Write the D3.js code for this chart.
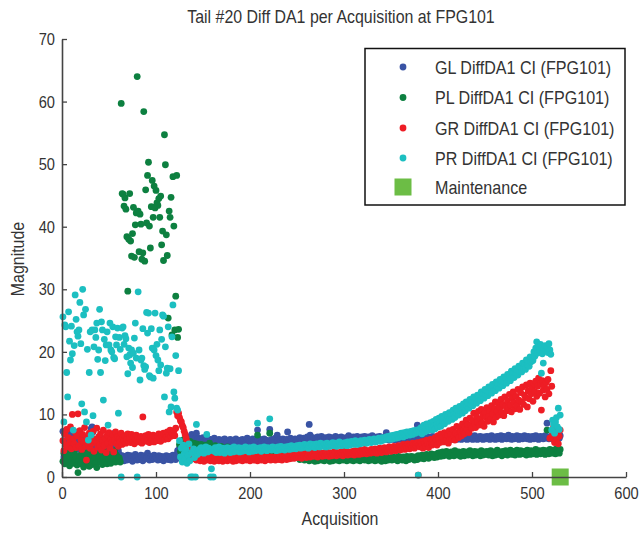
<!DOCTYPE html>
<html>
<head>
<meta charset="utf-8">
<script src="https://cdn.jsdelivr.net/npm/d3@7/dist/d3.min.js"></script>
<style>
  html, body { margin: 0; padding: 0; background: #fff; }
  svg { display: block; }
  text { font-family: "Liberation Sans", Arial, sans-serif; fill: #333; }
</style>
</head>
<body>
<svg id="chart" width="641" height="533"></svg>
<script>
// ---------------- DATA ----------------
const titleText = "Tail #20 Diff DA1 per Acquisition at FPG101";
const xLabel = "Acquisition";
const yLabel = "Magnitude";
const xTicks = [0, 100, 200, 300, 400, 500, 600];
const yTicks = [0, 10, 20, 30, 40, 50, 60, 70];
const seriesNames = ["GL DiffDA1 CI (FPG101)", "PL DiffDA1 CI (FPG101)", "GR DiffDA1 CI (FPG101)", "PR DiffDA1 CI (FPG101)"];
const maintenanceLabel = "Maintenance";
const maintenanceAcq = [530];
const acquisitions = d3.range(1, 531); // acquisition numbers 1..530

const GL = [
7.3,3.2,6.8,5.5,7.5,4.6,6.2,5.1,6.9,4.3,
5.8,6.4,4.9,7.1,5.3,6.0,4.4,5.6,6.6,4.8,
5.2,6.1,4.1,5.7,6.3,4.7,5.4,4.0,6.0,5.0,
7.7,8.0,7.2,5.5,4.6,5.9,4.2,5.1,6.3,4.5,
5.3,4.0,5.8,4.7,6.1,4.4,5.0,3.9,5.6,4.6,
5.2,4.1,4.8,5.5,4.3,7.0,4.5,3.8,4.9,4.2,
3.6,3.2,2.8,3.4,3.0,2.6,3.3,3.1,2.7,3.5,
3.0,2.8,3.4,3.1,2.5,3.2,2.9,3.6,3.0,2.7,
3.3,3.1,2.8,3.5,3.0,2.6,3.2,3.4,2.9,3.1,
3.8,3.2,2.7,3.0,3.3,2.8,3.1,3.5,2.9,3.2,
3.0,2.7,3.4,3.1,2.8,3.3,3.0,2.6,3.2,2.9,
3.4,3.0,2.8,3.3,3.1,2.7,3.0,3.5,2.9,3.2,
2.8,3.6,4.2,3.8,4.6,5.1,4.4,5.6,4.9,5.8,
5.2,6.0,5.5,6.4,5.7,6.2,5.4,6.8,5.9,6.5,
6.1,5.6,7.0,5.8,6.2,5.5,6.0,5.3,5.9,6.3,
5.6,5.1,5.9,6.1,5.4,5.8,5.2,6.0,5.5,5.7,
5.3,6.2,5.6,5.0,5.8,5.4,6.0,5.2,5.7,5.9,
5.1,5.6,6.1,5.3,5.5,5.8,5.0,5.7,6.0,5.4,
5.6,5.2,5.9,5.5,6.1,5.3,5.8,5.6,5.1,5.9,
5.4,6.0,5.7,5.2,5.8,5.5,6.2,5.3,5.9,5.6,
5.4,5.8,6.1,5.5,5.2,5.9,5.6,7.5,5.3,5.8,
6.0,5.5,5.7,5.2,6.1,5.6,5.9,5.4,5.8,5.5,
7.6,5.7,6.0,5.4,5.9,5.6,6.2,5.5,6.7,5.8,
5.4,6.0,5.7,5.5,6.1,5.6,5.9,5.3,6.0,7.2,
5.8,5.5,6.2,5.7,6.0,5.4,5.9,6.1,5.6,5.8,
6.0,5.7,6.3,5.5,6.1,5.8,6.2,5.6,6.0,5.9,
6.4,5.7,8.4,6.7,6.1,5.8,6.3,6.0,5.7,6.2,
5.9,6.4,6.0,5.8,6.2,6.5,5.9,6.1,5.7,6.3,
6.0,6.2,5.8,6.4,6.1,5.9,6.3,6.0,5.8,6.2,
6.5,6.0,5.9,6.3,6.1,5.8,6.4,6.0,6.2,5.9,
6.1,6.3,5.9,6.2,6.6,6.0,5.8,6.3,6.1,6.4,
6.0,6.2,5.9,6.5,6.1,6.3,6.0,5.8,6.4,6.2,
6.1,6.5,5.9,6.2,6.0,6.4,6.3,5.9,6.1,6.6,
6.0,6.3,6.1,5.9,6.4,6.2,6.0,6.5,6.1,6.3,
5.9,6.2,6.4,6.0,7.1,6.1,6.3,5.9,6.2,6.5,
6.0,6.3,6.1,6.4,5.9,6.2,6.6,6.0,6.3,6.1,
6.4,6.0,6.2,6.5,6.1,6.3,5.9,6.2,6.6,6.0,
6.3,6.1,6.4,6.0,6.2,6.5,6.1,8.3,6.3,6.0,
6.2,6.4,6.0,6.3,6.1,6.5,6.2,6.0,6.4,6.1,
6.3,6.0,6.2,6.5,6.1,6.4,6.2,6.0,6.3,6.1,
6.4,6.2,6.0,6.3,6.5,6.1,6.2,6.4,6.0,6.3,
6.1,6.5,6.2,6.0,6.4,6.2,6.3,6.1,6.5,6.0,
6.2,6.4,6.1,6.3,6.0,6.5,6.2,6.4,6.1,6.3,
6.0,6.2,6.5,6.1,6.4,6.2,6.0,6.3,6.6,6.1,
6.3,6.0,6.4,6.2,6.5,6.1,6.3,6.0,6.4,6.2,
6.1,6.5,6.2,6.4,6.0,6.3,6.6,6.1,6.4,6.2,
6.0,6.3,6.5,6.1,6.4,6.2,6.6,6.0,6.3,6.5,
6.2,6.4,6.1,6.3,6.7,6.2,6.4,6.0,6.5,6.3,
6.1,6.4,6.2,6.6,6.3,6.0,6.5,6.2,6.4,6.1,
6.3,6.6,6.2,6.4,6.1,6.5,6.3,6.0,6.4,6.2,
6.5,6.1,6.3,6.6,6.2,6.4,6.0,6.3,6.5,6.2,
6.4,6.1,6.3,6.6,6.2,8.6,6.4,6.1,6.3,6.5,
6.2,6.6,6.0,6.4,6.3,6.5,6.1,6.4,6.2,6.6
];

const PL = [
2.5,3.8,2.1,3.2,4.0,2.7,3.5,1.8,3.0,2.4,
3.6,2.2,3.9,2.8,3.3,1.9,0.7,2.6,3.4,2.1,
3.7,2.9,1.6,3.1,2.5,3.8,2.3,3.3,1.7,2.8,
3.5,2.0,3.9,2.6,3.1,2.2,1.5,3.6,2.9,3.2,
2.4,3.7,2.0,3.0,4.1,2.5,3.4,2.1,3.8,2.7,
3.3,2.2,3.9,2.6,3.0,4.2,2.4,3.5,2.9,3.1,
3.0,2.4,59.7,45.3,45.2,43.3,44.6,42.8,38.4,29.7,
38.0,45.3,37.7,35.3,38.9,43.1,35.1,40.3,42.2,64.0,
42.5,36.0,42.0,40.4,34.8,35.8,58.4,34.5,45.9,40.6,
48.2,50.3,40.1,36.6,43.2,47.4,41.5,46.5,43.0,45.8,
43.8,43.4,44.5,41.5,44.9,37.1,39.3,34.6,54.7,49.9,
38.7,35.4,25.4,42.5,41.5,44.7,22.7,48.0,40.1,23.5,
28.9,48.2,22.3,23.6,5.2,4.1,5.8,3.6,4.9,6.0,
4.4,5.5,3.9,5.1,4.6,5.7,4.2,5.0,4.5,5.4,
4.8,4.2,5.3,4.5,3.9,5.0,4.4,5.2,4.0,4.7,
4.3,5.1,4.6,3.8,4.9,4.2,5.4,4.5,4.0,4.8,
4.4,3.9,5.0,4.3,4.7,3.6,4.5,4.1,4.9,3.8,
4.2,4.6,3.7,4.4,4.0,4.8,3.5,4.3,3.9,4.5,
3.8,4.2,3.6,4.4,4.0,3.7,4.3,3.9,4.1,3.6,
4.0,3.8,4.4,3.5,4.1,3.9,3.6,4.2,3.8,4.0,
3.9,4.3,3.6,4.1,3.8,4.4,3.7,6.7,4.0,3.5,
4.2,3.8,4.0,3.6,4.3,3.9,3.5,4.1,3.7,4.0,
7.0,3.8,4.2,3.6,3.9,4.1,3.5,3.8,4.0,3.6,
3.9,3.5,4.1,3.7,3.8,3.4,4.0,3.6,3.9,3.5,
3.7,3.3,3.9,3.6,3.4,3.8,3.2,3.5,3.7,3.3,
3.1,3.5,2.8,3.3,4.5,2.9,3.2,2.7,3.4,3.0,
2.8,3.2,2.6,3.0,3.3,2.7,3.1,2.9,2.5,3.2,
3.0,2.6,3.3,2.8,3.1,2.7,2.9,3.2,2.6,3.0,
2.8,3.1,2.7,3.0,2.5,3.2,2.9,2.6,3.1,2.8,
3.0,2.7,3.2,2.9,2.6,3.1,2.8,3.0,2.7,3.2,
2.9,3.1,2.6,3.0,2.8,3.3,2.7,2.9,3.1,2.6,
3.0,2.8,3.2,2.7,2.9,3.1,2.6,3.0,2.8,3.2,
2.9,2.7,3.1,2.8,3.0,2.6,3.2,2.9,2.7,3.1,
2.8,3.0,2.6,3.2,2.9,2.7,3.1,2.8,3.0,2.5,
3.1,2.8,3.0,2.6,3.2,2.9,2.7,3.1,2.8,3.0,
2.7,3.2,2.9,3.1,2.8,3.0,2.6,3.3,2.9,3.1,
3.0,2.7,3.2,2.9,3.1,2.6,3.3,3.0,2.8,3.2,
3.0,3.3,2.9,3.1,2.7,3.2,3.0,2.8,3.4,3.1,
3.3,3.0,3.5,3.2,2.9,3.4,3.1,3.6,3.3,3.0,
3.4,3.2,3.7,3.3,3.5,3.1,3.6,3.4,3.2,3.8,
3.5,3.9,3.3,3.7,4.0,3.4,3.8,3.6,4.1,3.5,
3.9,3.3,3.7,4.0,3.5,3.8,3.4,4.2,3.6,3.9,
3.5,4.0,3.7,3.3,3.9,3.6,4.1,3.4,3.8,3.6,
4.0,3.5,3.8,4.2,3.6,3.9,3.4,3.7,4.1,3.5,
3.8,4.0,3.6,3.9,3.4,4.2,3.7,3.5,4.0,3.8,
3.6,4.1,3.8,3.5,3.9,4.2,3.7,3.4,4.0,3.8,
3.5,3.9,4.3,3.7,3.6,4.0,3.8,3.4,4.1,3.9,
3.6,4.2,3.8,3.5,4.0,3.7,4.3,3.9,3.6,4.1,
3.8,3.5,4.0,4.3,3.7,3.9,3.6,4.2,3.8,4.0,
3.7,4.1,3.9,3.5,4.3,3.8,4.0,3.6,4.2,3.9,
3.7,4.1,3.8,4.4,3.6,4.0,3.9,4.2,3.7,4.1,
3.8,4.3,3.9,3.6,4.2,7.5,4.0,3.7,4.4,3.9,
4.1,3.8,4.3,4.0,3.7,4.5,3.9,4.2,3.8,4.4
];

const GR = [
5.8,4.2,6.9,5.1,7.6,4.8,6.3,5.5,8.0,4.5,
10.0,6.1,5.3,7.2,4.7,6.6,10.1,5.0,7.4,5.9,
4.4,6.8,5.6,7.9,4.9,2.7,6.2,5.2,7.0,4.6,
6.5,5.4,7.3,4.1,6.0,5.7,7.8,4.8,6.4,5.1,
6.9,4.3,5.8,7.5,5.0,6.2,3.9,6.7,5.4,7.1,
4.6,6.0,5.5,6.8,4.0,5.9,7.2,5.3,6.4,4.9,
6.1,5.6,7.0,5.2,6.3,5.8,6.6,5.4,6.0,6.9,
5.7,6.2,5.5,6.8,5.9,6.4,5.3,6.1,6.7,5.8,
6.3,5.6,6.0,6.5,5.4,9.6,6.2,5.9,6.6,5.7,
6.1,6.8,5.5,6.3,5.9,6.0,6.7,5.6,6.4,6.2,
5.8,6.5,6.9,6.1,5.7,6.6,6.3,7.0,6.0,6.8,
6.4,7.2,6.1,6.7,7.5,6.5,7.1,6.9,7.4,6.6,
7.8,10.4,9.8,10.2,9.5,9.0,8.8,8.2,7.9,7.3,
6.8,6.2,5.6,5.0,4.4,3.9,3.4,4.1,3.2,3.6,
2.9,3.3,2.7,3.5,3.0,3.1,2.6,3.4,2.8,3.2,
2.5,3.0,3.3,2.7,3.1,2.9,3.4,2.6,3.0,2.8,
3.2,2.5,3.1,2.7,3.3,2.9,2.6,3.2,2.8,3.0,
2.5,3.3,2.7,3.1,2.9,2.6,3.2,2.8,3.0,2.7,
3.3,2.5,3.1,2.9,2.6,3.2,2.8,3.0,2.7,3.4,
2.9,2.6,3.1,2.8,3.3,2.7,3.0,2.9,3.2,2.6,
3.1,2.8,3.3,2.7,3.0,2.9,3.2,2.6,3.1,2.8,
3.4,2.7,3.0,2.9,3.2,2.6,3.1,2.8,3.3,2.9,
3.0,2.7,3.2,2.8,3.1,3.0,2.7,3.3,2.9,3.1,
2.8,3.4,3.0,2.7,3.2,2.9,3.3,3.0,2.8,3.4,
3.1,2.9,3.5,3.0,3.2,3.4,3.0,3.3,3.6,3.1,
3.5,3.2,3.7,3.3,3.0,3.6,3.3,3.8,3.4,3.1,
3.7,3.5,3.9,3.2,3.6,3.4,3.8,3.3,3.6,4.0,
3.5,3.2,3.7,3.4,3.9,3.5,3.3,3.8,3.6,3.4,
4.0,3.5,3.7,3.3,3.9,3.6,3.4,3.8,3.5,4.1,
3.7,3.4,3.9,3.6,3.8,3.5,4.0,3.7,3.4,3.9,
3.6,4.2,3.8,3.5,4.0,3.7,3.9,3.6,4.1,3.8,
3.5,4.2,3.9,3.7,4.0,3.6,4.3,3.9,3.7,4.1,
3.8,4.4,4.0,3.7,4.2,3.9,4.1,3.8,4.4,4.0,
4.2,3.9,4.5,4.1,3.8,4.3,4.0,4.6,4.2,3.9,
4.4,4.1,4.7,4.3,4.0,4.5,4.2,4.8,4.4,4.1,
4.6,4.3,4.9,4.5,4.2,4.7,4.4,5.0,4.6,4.3,
4.8,4.5,5.2,4.7,4.4,4.9,4.6,5.3,4.8,4.5,
5.1,4.7,5.4,5.0,4.6,5.2,4.9,5.5,0.3,5.1,
4.8,5.6,5.1,4.6,5.7,5.3,4.9,5.9,5.2,4.7,
5.3,6.0,5.5,5.1,5.8,5.4,6.3,5.9,5.1,6.6,
6.0,5.5,6.9,5.8,6.2,5.6,7.1,6.3,5.9,6.7,
5.4,7.4,6.1,6.8,6.0,7.6,6.5,5.9,7.0,8.1,
6.7,6.3,7.8,7.2,6.6,8.5,7.4,6.9,8.0,9.1,
7.6,8.4,7.1,9.4,8.2,7.8,9.0,10.2,8.5,7.9,
9.6,8.8,10.5,8.3,9.3,10.8,8.6,9.9,8.1,10.3,
9.5,11.1,8.9,9.7,10.6,9.2,11.4,10.1,8.8,10.9,
12.0,9.6,10.5,11.7,9.9,11.1,12.4,10.3,11.6,9.8,
12.8,11.3,10.6,12.2,11.0,13.2,11.5,10.4,12.6,13.6,
11.9,10.9,12.9,11.4,14.0,12.3,10.8,13.5,12.0,14.4,
11.6,13.1,12.7,14.7,11.2,13.8,12.5,15.0,13.3,14.2,
12.1,14.9,13.6,15.3,12.9,14.5,15.8,13.4,14.9,10.7,
15.4,13.9,14.6,12.8,15.1,14.0,15.6,13.3,6.2,17.0,
14.5,6.8,8.0,5.5,7.2,6.0,7.6,5.3,6.5,7.5
];

const PR = [
25.6,8.8,24.3,24.0,16.7,12.8,26.4,21.7,18.7,24.1,
19.7,7.5,21.0,29.1,25.2,23.2,22.5,23.5,27.9,21.3,
11.7,30.0,25.9,10.4,26.8,8.8,20.4,5.9,16.7,23.2,
6.7,23.5,9.8,20.8,23.5,22.3,24.6,18.8,20.3,26.8,
16.7,24.8,23.5,12.3,22.0,18.6,21.1,23.2,8.3,21.1,
24.6,20.3,20.0,24.0,19.1,18.9,22.4,21.1,23.8,10.2,
22.3,20.4,0.0,23.8,24.0,21.2,22.6,22.1,19.2,16.5,
20.6,19.5,18.2,20.3,17.5,19.8,22.2,24.6,19.0,0.0,
29.6,20.3,15.5,18.7,19.0,23.7,17.8,17.2,17.6,26.3,
23.0,26.2,16.2,16.0,23.7,20.6,15.8,20.3,26.2,19.4,
21.2,18.7,17.0,23.5,17.9,22.0,25.9,25.7,12.8,20.8,
16.6,17.4,24.0,10.4,17.3,11.2,22.4,27.5,13.6,12.6,
19.4,11.0,10.7,17.0,5.8,3.2,4.6,2.4,5.1,3.7,
2.9,4.4,2.2,3.5,5.3,2.6,0.0,3.9,0.0,4.5,
3.1,0.0,8.4,3.6,4.2,4.4,3.9,4.7,4.1,4.5,
3.8,4.3,4.8,6.8,4.0,4.6,4.2,0.0,1.3,4.4,
0.0,4.1,4.7,3.9,4.5,4.2,4.8,3.9,4.4,4.0,
4.6,4.3,3.8,4.5,4.1,4.7,4.2,4.4,3.9,4.6,
4.3,4.0,4.8,4.4,4.1,4.5,4.2,4.7,4.0,4.4,
4.6,4.1,4.5,4.3,4.8,4.2,4.6,4.4,4.0,4.7,
4.3,4.5,4.1,4.8,4.4,4.2,4.6,8.6,4.5,4.3,
4.7,4.1,4.6,4.4,4.8,4.3,4.5,4.2,4.7,4.4,
9.3,4.6,4.3,4.8,4.5,4.4,4.7,4.2,4.6,4.8,
4.3,4.5,4.9,4.4,4.6,4.7,4.3,4.8,4.5,4.6,
4.9,4.4,4.7,5.0,4.5,4.8,4.6,4.9,4.5,5.0,
4.7,4.8,5.1,4.6,4.9,5.0,4.7,5.2,4.9,4.8,
5.1,4.6,5.0,5.3,4.8,5.1,4.9,5.2,4.7,5.0,
5.3,4.9,5.1,4.8,5.4,5.0,5.2,4.9,5.3,5.1,
4.8,5.4,5.0,5.2,4.9,5.3,5.1,5.5,5.0,5.2,
5.4,4.9,5.3,5.1,5.6,5.2,5.0,5.4,5.3,5.1,
5.5,5.2,5.0,5.6,5.3,5.1,5.4,5.7,5.2,5.5,
5.3,5.8,5.4,5.2,5.6,5.5,5.3,5.8,5.4,5.7,
5.5,5.9,5.6,5.4,5.8,5.6,6.0,5.7,5.5,5.9,
5.7,6.1,5.8,5.6,6.0,5.8,6.2,5.9,5.7,6.1,
6.3,5.9,6.2,6.0,6.4,6.1,6.5,6.2,6.0,6.6,
6.3,6.1,6.7,6.4,6.2,6.8,6.5,6.3,6.9,6.6,
7.0,6.7,6.4,7.1,6.8,6.6,7.2,6.9,7.0,6.7,
7.3,7.1,6.8,7.4,7.2,7.0,7.5,7.3,0.3,7.6,
7.1,7.9,6.9,7.6,8.3,7.2,7.8,8.5,7.4,8.1,
7.6,8.7,8.0,7.5,8.9,8.2,7.7,9.2,8.4,8.0,
9.4,8.6,8.1,9.7,8.9,9.3,8.5,10.0,9.1,9.6,
8.9,10.3,9.5,9.9,9.2,10.7,10.0,9.5,11.0,10.2,
10.6,9.9,11.3,10.5,10.9,10.2,11.7,11.0,10.6,12.0,
11.3,11.8,11.0,12.4,11.6,12.1,11.4,12.8,12.0,12.4,
11.8,13.1,12.5,12.9,12.2,13.6,12.8,13.3,12.6,14.0,
13.2,13.8,13.0,14.4,13.6,14.1,13.4,14.8,14.0,14.5,
13.8,15.2,14.4,14.9,14.2,15.6,14.8,15.3,14.6,16.0,
15.2,15.8,15.0,16.4,15.6,16.2,15.4,16.9,16.1,16.6,
15.9,17.3,16.5,17.0,16.3,17.7,16.9,17.5,16.8,18.2,
17.4,18.0,17.2,18.7,17.9,18.5,17.7,19.2,18.4,19.0,
18.6,20.0,19.3,20.6,21.6,19.8,20.9,20.3,21.2,16.6,
19.7,18.2,20.5,21.0,20.2,20.8,19.9,21.3,20.3,19.6,
7.5,9.1,8.4,7.0,8.8,9.5,8.0,11.0,7.6,9.9
];

const seriesValues = [GL, PL, GR, PR];
const seriesColors = ["#3953a4", "#0d8040", "#ee1d25", "#1cbfc1"];
const maintenanceColor = "#6cbd45";

// ---------------- CHART ----------------
const NARROW = 0.86; // condensed look (Arial-Narrow-like)
function narrow(sel, factor) {
  sel.each(function () {
    const L = this.getComputedTextLength();
    d3.select(this).attr("textLength", L * factor).attr("lengthAdjust", "spacingAndGlyphs");
  });
}

const svg = d3.select("#chart");
svg.append("rect").attr("width", 641).attr("height", 533).attr("fill", "#fff");

const x = d3.scaleLinear().domain([0, 600]).range([62, 626]);
const y = d3.scaleLinear().domain([0, 70]).range([477, 39]);

// points
seriesValues.forEach((vals, si) => {
  svg.append("g")
    .selectAll("circle")
    .data(acquisitions.map((a, i) => ({ a, v: vals[i] })))
    .join("circle")
    .attr("cx", d => x(d.a))
    .attr("cy", d => y(d.v))
    .attr("r", 3.4)
    .attr("fill", seriesColors[si]);
});

// maintenance marker
const mSize = 17;
svg.append("g").selectAll("rect")
  .data(maintenanceAcq)
  .join("rect")
  .attr("x", d => x(d) - mSize / 2)
  .attr("y", y(0) - mSize / 2)
  .attr("width", mSize)
  .attr("height", mSize)
  .attr("fill", maintenanceColor);

// axes
const axisColor = "#444";
const yAxis = svg.append("g")
  .attr("transform", `translate(${x(0)},0)`)
  .call(d3.axisLeft(y).tickValues(yTicks).tickSizeInner(-5).tickSizeOuter(0).tickPadding(7));
const xAxis = svg.append("g")
  .attr("transform", `translate(0,${y(0)})`)
  .call(d3.axisBottom(x).tickValues(xTicks).tickSizeInner(-5).tickSizeOuter(0).tickPadding(10));
[yAxis, xAxis].forEach(g => {
  g.select(".domain").attr("stroke", axisColor).attr("stroke-width", 1.6);
  g.selectAll(".tick line").attr("stroke", axisColor).attr("stroke-width", 1.3);
  g.selectAll(".tick text")
    .attr("font-family", '"Liberation Sans", Arial, sans-serif')
    .attr("font-size", 17).attr("fill", "#333")
    .call(narrow, NARROW);
});

// title & axis labels
svg.append("text").attr("x", 341).attr("y", 23).attr("text-anchor", "middle")
  .attr("font-size", 18.5).text(titleText).call(narrow, NARROW);
svg.append("text").attr("x", 340).attr("y", 525).attr("text-anchor", "middle")
  .attr("font-size", 18.5).text(xLabel).call(narrow, NARROW);
svg.append("text").attr("transform", "translate(24,259) rotate(-90)").attr("text-anchor", "middle")
  .attr("font-size", 18.5).text(yLabel).call(narrow, NARROW);

// legend
const lg = svg.append("g");
lg.append("rect").attr("x", 365).attr("y", 48.5).attr("width", 260).attr("height", 156.5)
  .attr("fill", "#fff").attr("stroke", "#111").attr("stroke-width", 1.5);
const rowsY = [67, 97.5, 128, 158, 187];
seriesNames.forEach((name, i) => {
  lg.append("circle").attr("cx", 403).attr("cy", rowsY[i]).attr("r", 3.4).attr("fill", seriesColors[i]);
  lg.append("text").attr("x", 435).attr("y", rowsY[i]).attr("dy", "0.36em")
    .attr("font-size", 18.5).text(name).call(narrow, 0.87);
});
lg.append("rect").attr("x", 403 - mSize / 2).attr("y", rowsY[4] - mSize / 2)
  .attr("width", mSize).attr("height", mSize).attr("fill", maintenanceColor);
lg.append("text").attr("x", 435).attr("y", rowsY[4]).attr("dy", "0.36em")
  .attr("font-size", 18.5).text(maintenanceLabel).call(narrow, 0.87);
</script>
</body>
</html>
